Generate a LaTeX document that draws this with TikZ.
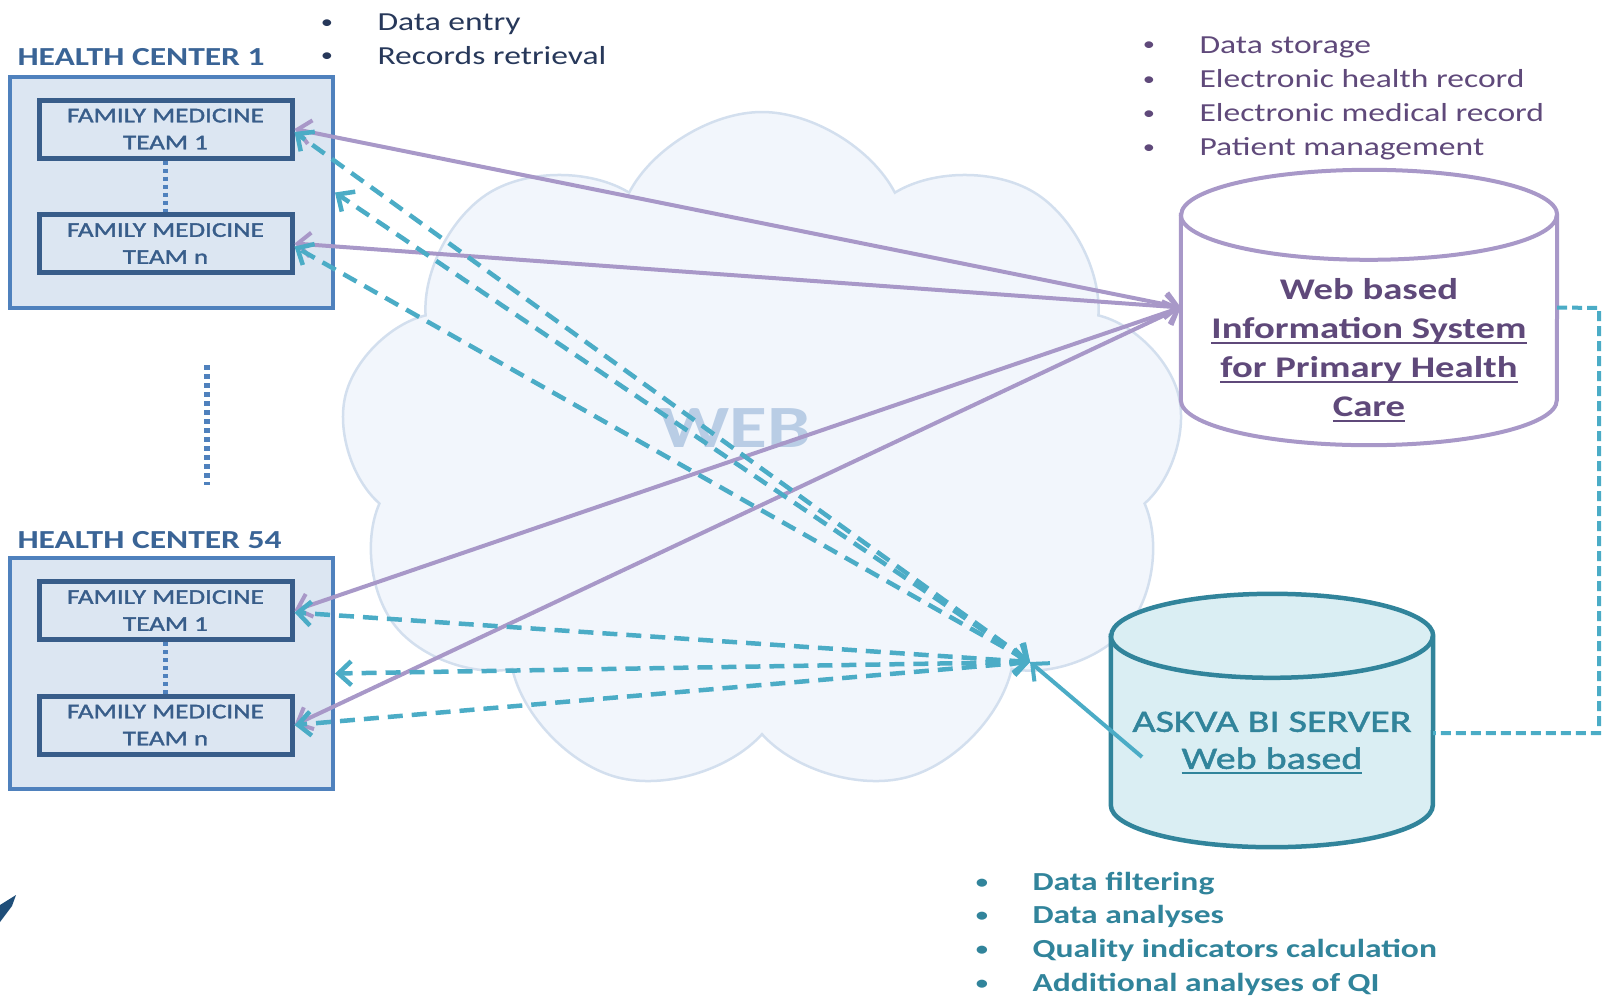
\documentclass[tikz,border=0pt]{standalone}
\usepackage{fontspec}
\setmainfont{Carlito}[FakeStretch=1.29]
\newfontfamily\medfont{Carlito}[FakeStretch=1.29,FakeBold=1.6]
\usetikzlibrary{arrows.meta,shapes.symbols}

\definecolor{hcblue}{HTML}{3A6496}
\definecolor{boxline}{HTML}{4F81BD}
\definecolor{boxfill}{HTML}{DCE6F2}
\definecolor{teamline}{HTML}{385D8A}
\definecolor{cloudfill}{HTML}{F2F6FC}
\definecolor{cloudline}{HTML}{D3DFEE}
\definecolor{webtext}{HTML}{B9CDE5}
\definecolor{wisline}{HTML}{A898C8}
\definecolor{wistext}{HTML}{5F497A}
\definecolor{biline}{HTML}{31849B}
\definecolor{bifill}{HTML}{DAEEF3}
\definecolor{bilink}{HTML}{4BACC6}
\definecolor{notetext}{HTML}{27385A}
\definecolor{markblue}{HTML}{1F4E79}

\newcommand{\fs}[2]{\fontsize{#1}{#2}\selectfont}
\newcommand{\udl}[1]{\setbox0\hbox{#1}\rlap{\rule[-5.5pt]{\wd0}{2pt}}\box0}

\begin{document}
\begin{tikzpicture}[x=1pt,y=-1pt]
    \useasboundingbox (0,0) rectangle (1602,998);

    % the web
    \node[cloud, cloud puffs=9, cloud puff arc=125, aspect=1.25, draw=cloudline, fill=cloudfill,
          line width=2.5pt, minimum width=846pt, minimum height=686pt, inner sep=0pt] (web) at (762,455) {};
    \node[text=webtext, font=\fs{60}{60}\bfseries] (webtxt) at (735,428) {WEB};

    % health centers
    \begin{scope}[every node/.style={draw=boxline,fill=boxfill,line width=4pt,
        minimum width=323pt,minimum height=231pt,inner sep=0pt}]
      \node (hcA) at (171.5,192.5) {};
      \node (hcB) at (171.5,673.5) {};
    \end{scope}

    \begin{scope}[every node/.style={draw=teamline,line width=5pt,text=teamline,align=center,
        minimum width=253pt,minimum height=58pt,inner sep=0pt,font=\medfont\fs{21}{27}}]
      \node (hcAt1) at (165.5,129) {FAMILY MEDICINE\\TEAM 1};
      \node (hcAtn) at (165.5,243.5) {FAMILY MEDICINE\\TEAM n};
      \node (hcBt1) at (165.5,610.5) {FAMILY MEDICINE\\TEAM 1};
      \node (hcBtn) at (165.5,725) {FAMILY MEDICINE\\TEAM n};
    \end{scope}

    \begin{scope}[every node/.style={anchor=base west,text=hcblue,font=\fs{26}{30}\bfseries}]
      \node (hcAname) at (14,66) {HEALTH CENTER 1};
      \node (hcBname) at (14,548) {HEALTH CENTER 54};
    \end{scope}

    \coordinate (gaptop) at (207,365);
    \coordinate (gapbot) at (207,485);
    \draw[boxline,line width=5pt,dash pattern=on 4pt off 4pt] (hcAt1.south) -- (hcAtn.north);
    \draw[boxline,line width=5pt,dash pattern=on 4pt off 4pt] (hcBt1.south) -- (hcBtn.north);
    \draw[boxline,line width=6pt,dash pattern=on 5pt off 4pt] (gaptop) -- (gapbot);

    % databases
    \node[minimum width=376pt,minimum height=185pt,inner sep=0pt] (wis) at (1369,307.5) {};
    \draw[wisline,line width=4pt,fill=white] (wis.north west) -- (wis.south west)
      arc[start angle=180,end angle=360,x radius=188pt,y radius=45pt] -- (wis.north east)
      arc[start angle=0,end angle=180,x radius=188pt,y radius=45pt] -- cycle;
    \draw[wisline,line width=4pt] (wis.north west)
      arc[start angle=180,end angle=360,x radius=188pt,y radius=45pt];
    \node[text=wistext,align=center,font=\fs{30}{39}\bfseries] (wistxt) at (1369,350)
      {Web based\\\udl{Information System}\\\udl{for Primary Health}\\\udl{Care}};

    \node[minimum width=322pt,minimum height=169pt,inner sep=0pt] (askva) at (1272,720.5) {};
    \draw[biline,line width=4.5pt,fill=bifill] (askva.north west) -- (askva.south west)
      arc[start angle=180,end angle=360,x radius=161pt,y radius=42pt] -- (askva.north east)
      arc[start angle=0,end angle=180,x radius=161pt,y radius=42pt] -- cycle;
    \draw[biline,line width=4.5pt] (askva.north west)
      arc[start angle=180,end angle=360,x radius=161pt,y radius=42pt];
    \node[text=biline,align=center,font=\medfont\fs{31}{37}] (askvatxt) at (1272,743)
      {ASKVA BI SERVER\\\udl{Web based}};

    % bullet lists
    \foreach \entry [count=\i] in {Data entry,Records retrieval} {
      \node[anchor=base,text=notetext,font=\fs{19}{30}] (entrydot\i) at (327,{29+33*(\i-1)}) {\textbullet};
      \node[anchor=base west,text=notetext,font=\fs{26}{30}] (entry\i) at (374,{31+33*(\i-1)}) {\entry};
    }
    \foreach \entry [count=\i] in {Data storage,Electronic health record,Electronic medical record,Patient management} {
      \node[anchor=base,text=wistext,font=\fs{19}{30}] (storedot\i) at (1149,{51+34*(\i-1)}) {\textbullet};
      \node[anchor=base west,text=wistext,font=\fs{26}{30}] (store\i) at (1196,{53+34*(\i-1)}) {\entry};
    }
    \foreach \entry [count=\i] in {Data filtering,Data analyses,Quality indicators calculation,Additional analyses of QI} {
      \node[anchor=base,text=biline,font=\fs{19}{30}\bfseries] (bidot\i) at (982,{888+33.7*(\i-1)}) {\textbullet};
      \node[anchor=base west,text=biline,font=\fs{26}{30}\bfseries] (bi\i) at (1029,{890+33.7*(\i-1)}) {\entry};
    }

    % connections
    \coordinate (hub) at (1030,662);
    \coordinate (biport) at (1142,757);
    \coordinate (rimtop) at (1599,308);
    \coordinate (rimbot) at (1599,733);

    \begin{scope}[>={Straight Barb[length=13pt,width=24pt]},
        every edge/.style={draw=wisline,line width=4pt}]
      \path [<->] (wis.west) edge (hcAt1.east);
      \path [<->] (wis.west) edge (hcAtn.east);
      \path [<->] (wis.west) edge (hcBt1.east);
      \path [<->] (wis.west) edge (hcBtn.east);
    \end{scope}

    \begin{scope}[>={Straight Barb[length=13pt,width=24pt]},
        every edge/.style={draw=bilink,line width=4.5pt,dash pattern=on 15pt off 9pt}]
      \path [<->] (hub) edge ([yshift=-3pt]hcAt1.east);
      \path [<->] (hub) edge (hcA.east);
      \path [<->] (hub) edge ([yshift=-3pt]hcAtn.east);
      \path [<->] (hub) edge ([yshift=-2pt]hcBt1.east);
      \path [<->] (hub) edge (hcB.east);
      \path [<->] (hub) edge (hcBtn.east);
    \end{scope}

    \draw[->,>={Straight Barb[length=13pt,width=24pt]},bilink,line width=4pt] (biport) -- (hub);
    \draw[bilink,line width=4pt,dash pattern=on 10pt off 5pt]
      (wis.east) -- (rimtop) -- (rimbot) -- (rimbot -| askva.east);

    \fill[markblue] (16,895) -- (12,906) -- (0,922) -- (0,905) -- cycle;
\end{tikzpicture}
\end{document}
